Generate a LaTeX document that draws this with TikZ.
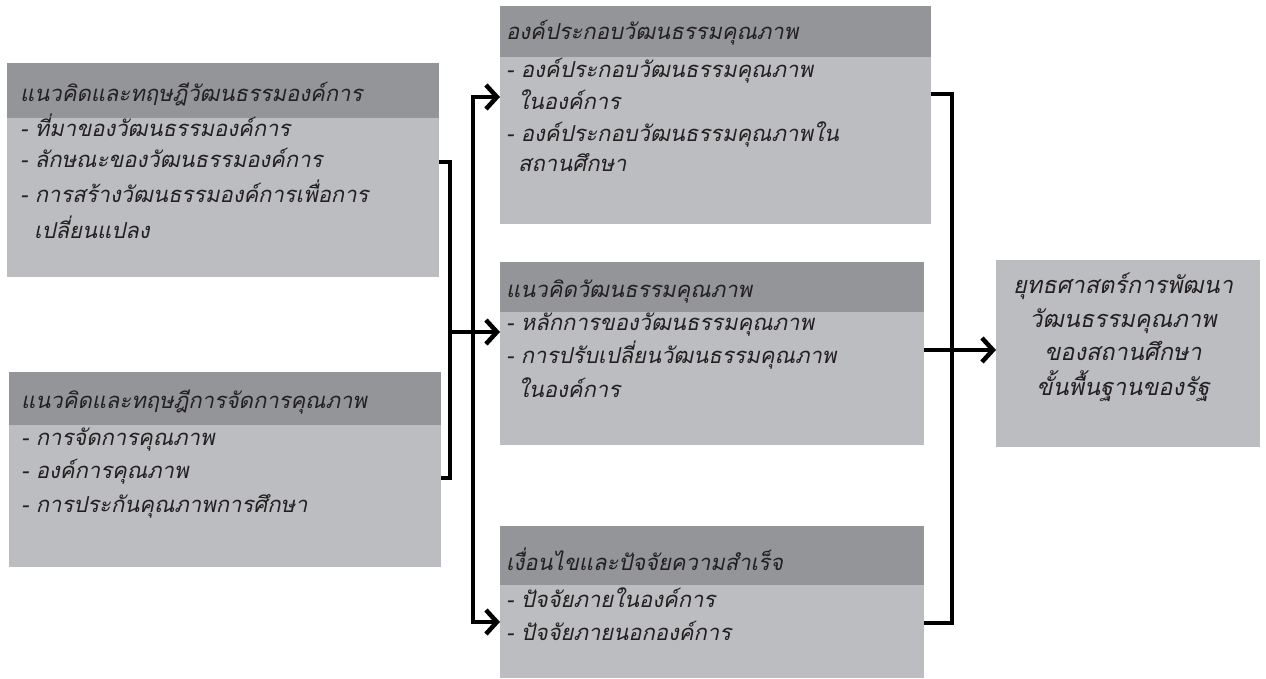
\documentclass[tikz,border=0pt]{standalone}
\usepackage{fontspec}
\newfontfamily\thaifont[Script=Thai]{Loma}
\usetikzlibrary{arrows.meta}
\definecolor{hdrgray}{RGB}{147,149,152}
\definecolor{bodygray}{RGB}{188,189,192}
\definecolor{ink}{RGB}{35,31,32}
\begin{document}
\begin{tikzpicture}[x=1pt,y=-1pt,
  panel/.style={fill=bodygray, draw=none, anchor=north west, inner sep=0pt, outer sep=0pt},
  header/.style={fill=hdrgray, draw=none, anchor=north west, inner sep=0pt, outer sep=0pt},
  txt/.style={anchor=base west, inner sep=0pt, font=\thaifont\itshape\fontsize{22}{26}\selectfont, text=ink},
  ctxt/.style={anchor=base, inner sep=0pt, font=\thaifont\itshape\fontsize{23.5}{28}\selectfont, text=ink},
  conn/.style={line width=4.5pt, draw=black},
  tip/.style={-{Straight Barb[length=11pt,width=24pt]}},
  tips/.style={{Straight Barb[length=11pt,width=24pt]}-{Straight Barb[length=11pt,width=24pt]}}
]
\useasboundingbox (0,0) rectangle (1266,679);
\fill[white] (0,0) rectangle (1266,679);

% left panels
\node[panel, minimum width=432pt, minimum height=214pt] (L1) at (7,63) {};
\node[header, minimum width=432pt, minimum height=55pt] (L1h) at (7,63) {};
\node[panel, minimum width=432pt, minimum height=195pt] (L2) at (9,372) {};
\node[header, minimum width=432pt, minimum height=53pt] (L2h) at (9,372) {};

% middle panels
\node[panel, minimum width=431pt, minimum height=218pt] (M1) at (500,6) {};
\node[header, minimum width=431pt, minimum height=51pt] (M1h) at (500,6) {};
\node[panel, minimum width=424pt, minimum height=183pt] (M2) at (500,262) {};
\node[header, minimum width=424pt, minimum height=50pt] (M2h) at (500,262) {};
\node[panel, minimum width=424pt, minimum height=152pt] (M3) at (500,526) {};
\node[header, minimum width=424pt, minimum height=59pt] (M3h) at (500,526) {};

% right panel
\node[panel, minimum width=264pt, minimum height=187pt] (R) at (996,260) {};

% texts left 1
\node[txt] (t11) at (20,102) {แนวคิดและทฤษฎีวัฒนธรรมองค์การ};
\node[txt] (t12) at (20,137) {- ที่มาของวัฒนธรรมองค์การ};
\node[txt] (t13) at (20,168) {- ลักษณะของวัฒนธรรมองค์การ};
\node[txt] (t14) at (20,203) {- การสร้างวัฒนธรรมองค์การเพื่อการ};
\node[txt] (t15) at (34,238) {เปลี่ยนแปลง};

% texts left 2
\node[txt] (t21) at (21,408) {แนวคิดและทฤษฎีการจัดการคุณภาพ};
\node[txt] (t22) at (21,445) {- การจัดการคุณภาพ};
\node[txt] (t23) at (21,478) {- องค์การคุณภาพ};
\node[txt] (t24) at (21,512) {- การประกันคุณภาพการศึกษา};

% texts middle 1
\node[txt] (t31) at (506,40) {องค์ประกอบวัฒนธรรมคุณภาพ};
\node[txt] (t32) at (506,78) {- องค์ประกอบวัฒนธรรมคุณภาพ};
\node[txt] (t33) at (518,110) {ในองค์การ};
\node[txt] (t34) at (506,142) {- องค์ประกอบวัฒนธรรมคุณภาพใน};
\node[txt] (t35) at (518,172) {สถานศึกษา};

% texts middle 2
\node[txt] (t41) at (506,297) {แนวคิดวัฒนธรรมคุณภาพ};
\node[txt] (t42) at (506,330) {- หลักการของวัฒนธรรมคุณภาพ};
\node[txt] (t43) at (506,363) {- การปรับเปลี่ยนวัฒนธรรมคุณภาพ};
\node[txt] (t44) at (518,397) {ในองค์การ};

% texts middle 3
\node[txt] (t51) at (506,570) {เงื่อนไขและปัจจัยความสำเร็จ};
\node[txt] (t52) at (506,607) {- ปัจจัยภายในองค์การ};
\node[txt] (t53) at (506,640) {- ปัจจัยภายนอกองค์การ};

% right text
\node[ctxt] (r1) at (1123,293) {ยุทธศาสตร์การพัฒนา};
\node[ctxt] (r2) at (1123,327) {วัฒนธรรมคุณภาพ};
\node[ctxt] (r3) at (1123,360) {ของสถานศึกษา};
\node[ctxt] (r4) at (1123,395) {ขั้นพื้นฐานของรัฐ};

% connector coordinates
\coordinate (lbT) at (450,162);
\coordinate (lbB) at (450,478);
\coordinate (lbM) at (450,332);
\coordinate (vT) at (473,97);
\coordinate (vB) at (473,622);
\coordinate (rbT) at (952,94);
\coordinate (rbB) at (952,623);
\coordinate (rbM) at (952,350);

% connectors
\draw[conn] (L1.east |- lbT) -- (lbT) -- (lbB) -- (L2.east |- lbB);
\draw[conn, tip] (lbM) -- (M2.west |- lbM);
\draw[conn, tips] (M1.west |- vT) -- (vT) -- (vB) -- (M3.west |- vB);
\draw[conn] (M1.east |- rbT) -- (rbT) -- (rbB) -- (M3.east |- rbB);
\draw[conn, tip] (M2.east |- rbM) -- (R.west |- rbM);
\end{tikzpicture}
\end{document}
